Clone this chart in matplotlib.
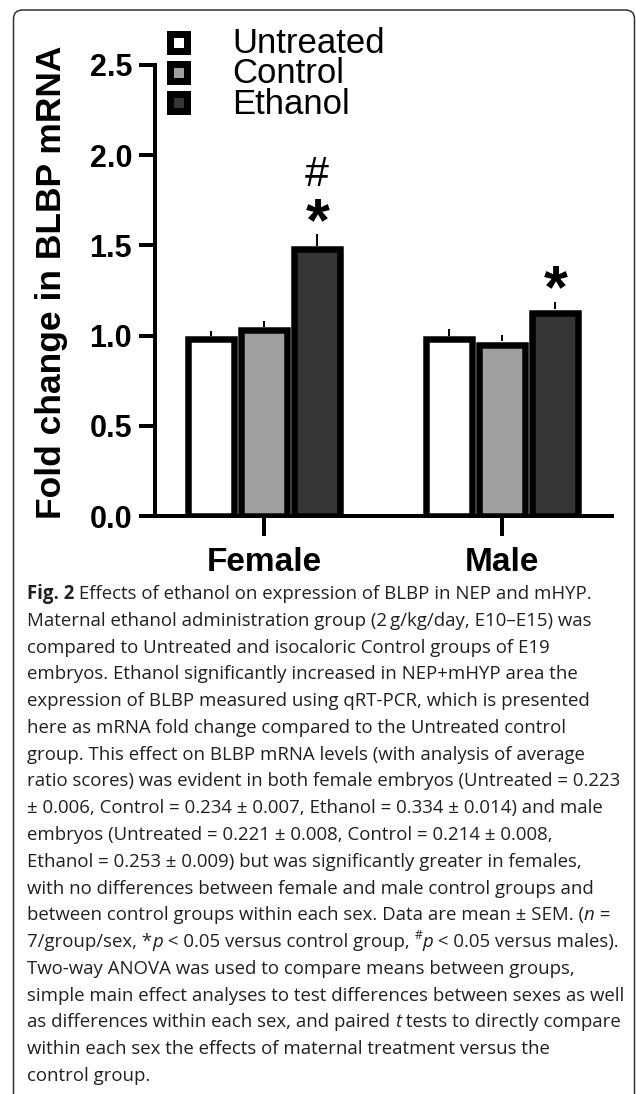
import numpy as np
import matplotlib
matplotlib.use("Agg")
import matplotlib.pyplot as plt
import matplotlib.transforms as mtransforms
from matplotlib import font_manager
from matplotlib.font_manager import FontProperties
from matplotlib.patches import FancyBboxPatch
from matplotlib.lines import Line2D

# -----------------------------
# Data (fold change vs Untreated, mean and SEM)
# -----------------------------
SEXES = ["Female", "Male"]
GROUPS = ["Untreated", "Control", "Ethanol"]
FEMALE_FOLD = [1.000, 1.049, 1.498]
MALE_FOLD = [1.000, 0.968, 1.145]
FEMALE_SEM = [0.027, 0.031, 0.063]
MALE_SEM = [0.036, 0.036, 0.041]
Y_TICKS = [0.0, 0.5, 1.0, 1.5, 2.0, 2.5]
Y_LABEL = "Fold change in BLBP mRNA"

# significance marks: (sex index, group index)
STAR_MARKS = [(0, 2), (1, 2)]
HASH_MARKS = [(0, 2)]

# caption, one entry per printed line; styles: n normal, b bold, i italic, s superscript
CAPTION = [
    [("Fig. 2", "b"), (" Effects of ethanol on expression of BLBP in NEP and mHYP.", "n")],
    [("Maternal ethanol administration group (2\u2009g/kg/day, E10\u2013E15) was", "n")],
    [("compared to Untreated and isocaloric Control groups of E19", "n")],
    [("embryos. Ethanol significantly increased in NEP+mHYP area the", "n")],
    [("expression of BLBP measured using qRT-PCR, which is presented", "n")],
    [("here as mRNA fold change compared to the Untreated control", "n")],
    [("group. This effect on BLBP mRNA levels (with analysis of average", "n")],
    [("ratio scores) was evident in both female embryos (Untreated = 0.223", "n")],
    [("\u00b1 0.006, Control = 0.234 \u00b1 0.007, Ethanol = 0.334 \u00b1 0.014) and male", "n")],
    [("embryos (Untreated = 0.221 \u00b1 0.008, Control = 0.214 \u00b1 0.008,", "n")],
    [("Ethanol = 0.253 \u00b1 0.009) but was significantly greater in females,", "n")],
    [("with no differences between female and male control groups and", "n")],
    [("between control groups within each sex. Data are mean \u00b1 SEM. (", "n"), ("n", "i"), (" =", "n")],
    [("7/group/sex, *", "n"), ("p", "i"), (" < 0.05 versus control group,", "n"), (" ", "n"),
     ("#", "s"), ("p", "i"), (" < 0.05 versus males).", "n")],
    [("Two-way ANOVA was used to compare means between groups,", "n")],
    [("simple main effect analyses to test differences between sexes as well", "n")],
    [("as differences within each sex, and paired ", "n"), ("t", "i"), (" tests to directly compare", "n")],
    [("within each sex the effects of maternal treatment versus the", "n")],
    [("control group.", "n")],
]

# -----------------------------
# Style / layout (pixels of the 636 x 1094 output, y measured from top)
# -----------------------------
W, H, DPI = 636, 1094, 100
PT = 72 / DPI                      # points per pixel
GROUP_COLORS = ["#ffffff", "#a0a0a0", "#353535"]
AX_LEFT, AX_RIGHT, AX_TOP, AX_BOTTOM = 155, 612, 65, 516
X_LIM = (-0.458, 1.462)
BAR_STEP = 0.2235
EDGE_PX = 6.5
BAR_WIDTH = (52 - EDGE_PX) / 238
AXIS_LW = 4 * PT
CAPTION_X, CAPTION_Y0, CAPTION_DY = 27, 599, 26.78
CAPTION_SIZE = 13.4
CAPTION_COLOR = "#231f20"
CAPTION_FAMILY = ["Open Sans", "DejaVu Sans"]


def has_font(name):
    try:
        font_manager.findfont(FontProperties(family=name), fallback_to_default=False)
        return True
    except ValueError:
        return False


plt.rcParams["font.family"] = ["Liberation Sans", "DejaVu Sans"]
NARROW = has_font("Liberation Sans Narrow")

fig = plt.figure(figsize=(W / DPI, H / DPI), dpi=DPI)
fig.patch.set_facecolor("white")
renderer = fig.canvas.get_renderer()
PIX = mtransforms.IdentityTransform()


def fy(y):
    return H - y


def ink(s, prop):
    w, h, d = renderer.get_text_width_height_descent(s, prop, ismath=False)
    return w, h, d


def advance(s, prop):
    return ink("|" + s + "|", prop)[0] - ink("||", prop)[0]


# -----------------------------
# Frame round figure + caption
# -----------------------------
frame = FancyBboxPatch((13.5, -40), 621, fy(10) + 40,
                       boxstyle="round,pad=0,rounding_size=9",
                       transform=PIX, facecolor="none", edgecolor="#333333",
                       linewidth=1.1)
fig.add_artist(frame)

styles = {
    "n": dict(size=CAPTION_SIZE, weight="normal", style="normal", rise=0),
    "b": dict(size=CAPTION_SIZE, weight="bold", style="normal", rise=0),
    "i": dict(size=CAPTION_SIZE, weight="normal", style="italic", rise=0),
    "s": dict(size=CAPTION_SIZE * 0.65, weight="normal", style="normal", rise=0.42),
}
for k, segments in enumerate(CAPTION):
    x = CAPTION_X
    base = fy(CAPTION_Y0 + k * CAPTION_DY)
    for text, st in segments:
        s = styles[st]
        prop = FontProperties(family=CAPTION_FAMILY, size=s["size"],
                              weight=s["weight"], style=s["style"])
        fig.text(x, base + s["rise"] * CAPTION_SIZE / PT, text, transform=PIX,
                 fontproperties=prop, color=CAPTION_COLOR, ha="left", va="baseline")
        x += advance(text, prop)

# -----------------------------
# Bar chart
# -----------------------------
ax = fig.add_axes([AX_LEFT / W, (H - AX_BOTTOM) / H,
                   (AX_RIGHT - AX_LEFT) / W, (AX_BOTTOM - AX_TOP) / H])
px_per_unit = (AX_BOTTOM - AX_TOP) / (Y_TICKS[-1] - Y_TICKS[0])
inset = EDGE_PX / 2 / px_per_unit   # GraphPad-style: outline drawn inside the bar

fold = np.array([FEMALE_FOLD, MALE_FOLD])
sem = np.array([FEMALE_SEM, MALE_SEM])
xc = np.arange(len(SEXES))
for i, (grp, color) in enumerate(zip(GROUPS, GROUP_COLORS)):
    xi = xc + (i - 1) * BAR_STEP
    ax.bar(xi, fold[:, i] - inset, width=BAR_WIDTH, color=color,
           edgecolor="black", linewidth=EDGE_PX * PT, zorder=2)
    ax.errorbar(xi, fold[:, i], yerr=[np.zeros(len(SEXES)), sem[:, i]], fmt="none",
                ecolor="black", elinewidth=2 * PT, capsize=0, zorder=1)

ax.set_xlim(*X_LIM)
ax.set_ylim(Y_TICKS[0], Y_TICKS[-1])
for side in ["top", "right"]:
    ax.spines[side].set_visible(False)
for side in ["left", "bottom"]:
    ax.spines[side].set_linewidth(AXIS_LW)

ax.set_yticks(Y_TICKS)
ax.set_yticklabels([f"{v:.1f}" for v in Y_TICKS], fontsize=22, fontweight="bold")
ax.set_xticks(xc)
ax.set_xticklabels(SEXES, fontsize=24, fontweight="bold")
ax.tick_params(axis="y", length=16 * PT, width=AXIS_LW, pad=5)
ax.tick_params(axis="x", length=20 * PT, width=AXIS_LW, pad=8)

# significance marks, centred a fixed distance above each error bar
star_prop = FontProperties(family="Liberation Sans", weight="bold", size=44)
hash_prop = FontProperties(family="Liberation Sans", weight="normal", size=31)
STAR_GAP_PX, HASH_GAP_PX = 25, 63
for props, marks, gap in [(star_prop, STAR_MARKS, STAR_GAP_PX),
                          (hash_prop, HASH_MARKS, HASH_GAP_PX)]:
    sym = "*" if props is star_prop else "#"
    _, h, d = ink(sym, props)
    centre = h / 2 - d
    for si, gi in marks:
        ax.annotate(sym, xy=(xc[si] + (gi - 1) * BAR_STEP, fold[si, gi] + sem[si, gi]),
                    xytext=(0, (gap - centre) * PT), textcoords="offset points",
                    fontproperties=props, ha="center", va="baseline")

# y label
if NARROW:
    ylab_prop = FontProperties(family="Liberation Sans Narrow", weight="bold", size=31)
else:
    ylab_prop = FontProperties(family="Liberation Sans", weight="bold", size=25.5)
fig.text(52, fy(282), Y_LABEL, transform=PIX, rotation=90, fontproperties=ylab_prop,
         ha="center", va="center")

# legend (square swatches with heavy outline)
LEG_X, LEG_Y0, LEG_DY, LEG_TEXT_X = 178, 41.5, 30.3, 232
for i, (grp, color) in enumerate(zip(GROUPS, GROUP_COLORS)):
    fig.add_artist(Line2D([LEG_X], [fy(LEG_Y0 + i * LEG_DY)], transform=PIX,
                          marker="s", markersize=17 * PT, markerfacecolor=color,
                          markeredgecolor="black", markeredgewidth=7 * PT, ls="none"))
    fig.text(LEG_TEXT_X, fy(LEG_Y0 + 11.5 + i * LEG_DY), grp, transform=PIX,
             fontsize=25, ha="left", va="baseline")

fig.savefig("out.png", dpi=DPI, facecolor="white")
